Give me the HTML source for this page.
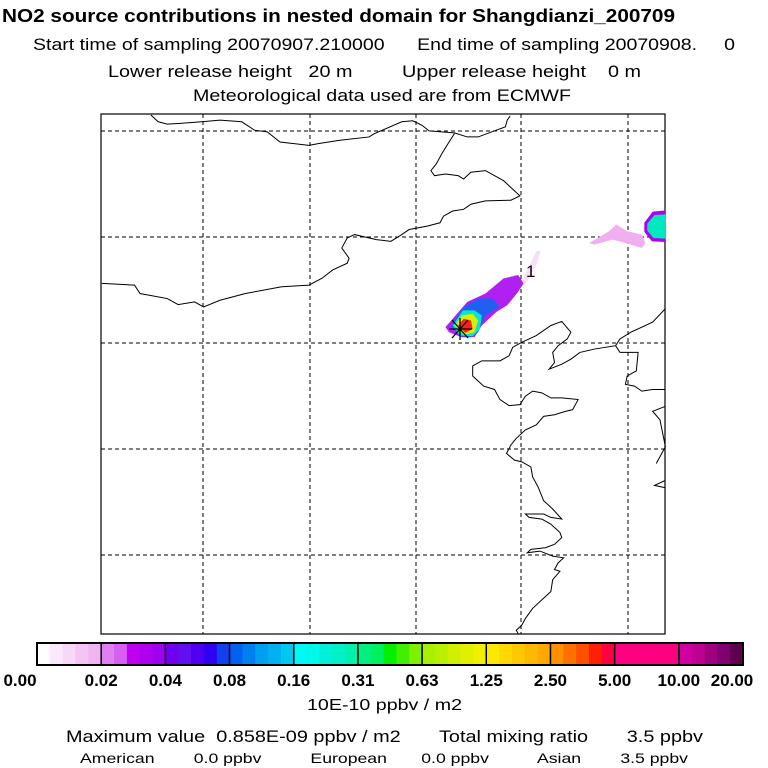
<!DOCTYPE html>
<html><head><meta charset="utf-8"><style>
body{margin:0;background:#fff;}
svg{display:block;font-family:"Liberation Sans",sans-serif;}
svg text{white-space:pre;}
</style></head><body>
<svg id="chart" width="768" height="768" viewBox="0 0 768 768">
<text x="2" y="22" font-size="18" font-weight="bold" textLength="673" lengthAdjust="spacingAndGlyphs">NO2 source contributions in nested domain for Shangdianzi_200709</text>
<text x="33" y="50" font-size="17" textLength="702" lengthAdjust="spacingAndGlyphs">Start time of sampling 20070907.210000      End time of sampling 20070908.     0</text>
<text x="108" y="77" font-size="17" textLength="533" lengthAdjust="spacingAndGlyphs">Lower release height   20 m         Upper release height    0 m</text>
<text x="193" y="101" font-size="17" textLength="378" lengthAdjust="spacingAndGlyphs">Meteorological data used are from ECMWF</text>
<g id="map">
<rect x="101" y="114" width="564" height="520" fill="#fff" stroke="#000" stroke-width="1.2"/>
<g id="grid"></g>
<g transform="translate(100,110) scale(0.3636,0.3367)" id="plume"></g>
<g transform="translate(100,110) scale(0.3636,0.3367)" fill="none" stroke="#000" stroke-width="1" id="coast"></g>
<g stroke="#000" stroke-width="1.3">
<line x1="449" y1="329" x2="472" y2="329"/><line x1="460" y1="318" x2="460" y2="340"/>
<line x1="452" y1="320" x2="468" y2="338"/><line x1="452" y1="338" x2="468" y2="320"/></g>
<text x="526" y="277" font-size="17">1</text>
</g>
<g id="cbar"></g>
<text x="307" y="710" font-size="16" textLength="155" lengthAdjust="spacingAndGlyphs">10E-10 ppbv / m2</text>
<text x="66" y="742" font-size="17" textLength="637" lengthAdjust="spacingAndGlyphs">Maximum value  0.858E-09 ppbv / m2       Total mixing ratio       3.5 ppbv</text>
<text x="80" y="763" font-size="14" textLength="608" lengthAdjust="spacingAndGlyphs">American        0.0 ppbv          European       0.0 ppbv          Asian        3.5 ppbv</text>
</svg>
<script>
const NS="http://www.w3.org/2000/svg";
const levelLabels=["0.00","0.02","0.04","0.08","0.16","0.31","0.63","1.25","2.50","5.00","10.00","20.00"];
const cellColors=["#ffffff","#fce8fc","#f8d8f8","#f4c4f4","#f0b4f0","#e080f0","#d860f0","#c000f0","#b000f0","#a000f0","#7000f0","#6010f0","#5000f0","#3000f0","#1040f0","#0060f0","#0080f0","#00a0f0","#00b0f0","#00c8f0","#00f8f8","#00f8e8","#00f0d8","#00f0c8","#00f0b0","#00f080","#00f060","#00f000","#40f000","#80f000","#a8f000","#b8f000","#d0f000","#e0f000","#f0f000","#ffe800","#ffd800","#ffc800","#ffb800","#ffa800","#ff9000","#ff7000","#ff5000","#ff2000","#ff0040","#ff0080","#ff0080","#ff0080","#ff0080","#ff0080","#d000a0","#c00090","#a00080","#800070","#600050"];
const gridLonPx=[203,310,416,521,628];
const gridLatPx=[131,237,343,449,555];
const plumeOuter=[[950,645],[970,620],[1010,570],[1060,545],[1110,500],[1150,490],[1165,515],[1150,540],[1120,580],[1090,600],[1050,640],[1030,675],[995,675],[960,660]];
const plumeTail=[[1160,510],[1200,420],[1212,418],[1200,460],[1172,515]];
const plumeBlue=[[965,640],[1000,585],[1040,560],[1080,560],[1100,585],[1060,610],[1040,660],[1020,675],[990,672]];
const plumeCyan=[[970,640],[998,595],[1030,595],[1050,610],[1045,650],[1025,672],[990,670]];
const plumeYellow=[[975,640],[995,610],[1025,605],[1040,625],[1030,660],[1000,668]];
const plumeRed=[[985,640],[1000,620],[1020,625],[1025,650],[1005,662]];
const smear=[[1345,395],[1400,360],[1420,340],[1450,360],[1490,370],[1500,395],[1490,410],[1460,400],[1410,385],[1360,400]];
const blobOuter=[[1497,335],[1520,302],[1556,298],[1556,392],[1518,390],[1497,362]];
const blobInner=[[1505,338],[1525,312],[1556,310],[1556,382],[1522,380],[1505,358]];
function poly(g,pts,fill,name){const p=document.createElementNS(NS,"polygon");p.setAttribute("points",pts.map(q=>q.join(",")).join(" "));p.setAttribute("fill",fill);


g.appendChild(p);}
const pl=document.getElementById("plume");
poly(pl,smear,"#f0b0f0","plume-smear");
poly(pl,plumeTail,"#f8dcf8","plume-tail");
poly(pl,plumeOuter,"#b020f0","plume-purple");
poly(pl,plumeBlue,"#2060f0","plume-blue");
poly(pl,plumeCyan,"#00e8d0","plume-cyan");
poly(pl,plumeYellow,"#d8f000","plume-yellow");
poly(pl,plumeRed,"#ff2020","plume-red");
poly(pl,blobOuter,"#b000f0","blob-purple");
poly(pl,blobInner,"#00e8c0","blob-cyan");
const coast=["M140,15 L160,35 185,42 215,40 280,35 330,30 390,35 425,60 460,65 495,95 575,105 600,100 660,90 740,80 755,70 830,35 860,32 885,45 905,62 975,68 1010,80 1040,80 1090,60 1115,50 1120,30 1128,18",
"M975,70 L960,95 940,130 925,160 910,180 920,195 950,190 985,195 1000,205 1020,185 1060,180 1110,210 1155,255 1130,268 1060,270 1020,280 1000,295 970,300 945,315 935,335 900,345 850,355 830,370 800,390 760,385 700,370 680,380 665,410 685,440 680,455 640,475 610,500 575,520 500,525 400,545 330,565 285,585 260,570 215,578 185,560 110,545 95,520 5,515",
"M1555,590 L1520,630 1460,660 1430,680 1418,700 1360,710 1320,720 1295,740 1270,755 1235,770 1250,750 1245,720 1260,700 1285,680 1295,660 1270,628 1240,640 1200,670 1160,690 1135,705 1125,730 1100,745 1050,745 1025,760 1025,790 1055,820 1085,830 1100,860 1125,878 1155,875 1170,850 1190,835 1215,840 1240,855 1270,855 1315,860 1300,890 1280,895 1250,905 1220,910 1200,935 1170,950 1145,975 1130,995 1118,1020 1140,1040 1160,1045 1185,1060 1190,1090 1205,1120 1220,1160 1245,1185 1270,1215 1240,1210 1220,1200 1170,1200 1180,1210 1215,1215 1240,1230 1265,1255 1270,1270 1250,1290 1225,1300 1185,1305 1175,1315 1210,1310 1245,1325 1275,1330 1260,1345 1250,1365 1265,1370 1245,1395 1240,1430 1220,1450 1190,1480 1170,1510 1160,1530 1145,1545 1150,1555",
"M1418,700 L1430,720 1480,720 1475,775 1450,790 1445,815 1470,820 1490,835 1520,830 1555,830",
"M1555,880 L1520,895 1540,920 1555,1000 1530,1050","M1555,1100 L1525,1115 1555,1122"];
const cg=document.getElementById("coast");
coast.forEach(d=>{const p=document.createElementNS(NS,"path");p.setAttribute("d",d);p.setAttribute("vector-effect","non-scaling-stroke");


cg.appendChild(p);});
const gg=document.getElementById("grid");
function ln(x1,y1,x2,y2,name){const l=document.createElementNS(NS,"line");l.setAttribute("x1",x1);l.setAttribute("y1",y1);l.setAttribute("x2",x2);l.setAttribute("y2",y2);l.setAttribute("stroke","#000");l.setAttribute("stroke-width","1");l.setAttribute("stroke-dasharray","4,3");


gg.appendChild(l);}
gridLonPx.forEach(x=>ln(x,114,x,634,"meridian"));
gridLatPx.forEach(y=>ln(101,y,665,y,"parallel"));
const cb=document.getElementById("cbar");const x0=37,x1=743,y0=643,h=22;
const nSeg=levelLabels.length-1;const segW=(x1-x0)/nSeg;const cw=segW/5;
cellColors.forEach((c,i)=>{const r=document.createElementNS(NS,"rect");r.setAttribute("x",x0+i*cw);r.setAttribute("y",y0);r.setAttribute("width",cw+0.6);r.setAttribute("height",h);r.setAttribute("fill",c);


cb.appendChild(r);});
for(let i=1;i<nSeg;i++){const l=document.createElementNS(NS,"line");l.setAttribute("x1",x0+i*segW);l.setAttribute("x2",x0+i*segW);l.setAttribute("y1",y0);l.setAttribute("y2",y0+h);l.setAttribute("stroke","#000");l.setAttribute("stroke-width","1.5");


cb.appendChild(l);}
const fr=document.createElementNS(NS,"rect");fr.setAttribute("x",x0);fr.setAttribute("y",y0);fr.setAttribute("width",x1-x0);fr.setAttribute("height",h);fr.setAttribute("fill","none");fr.setAttribute("stroke","#000");fr.setAttribute("stroke-width","2");


cb.appendChild(fr);
levelLabels.forEach((t,i)=>{const tx=document.createElementNS(NS,"text");let x=x0+i*segW;if(i==0)x=20;if(i==nSeg)x=732;tx.setAttribute("x",x);tx.setAttribute("y",686);tx.setAttribute("font-size","17");tx.setAttribute("font-weight","bold");tx.setAttribute("text-anchor","middle");tx.textContent=t;


cb.appendChild(tx);});
</script>
</body></html>
